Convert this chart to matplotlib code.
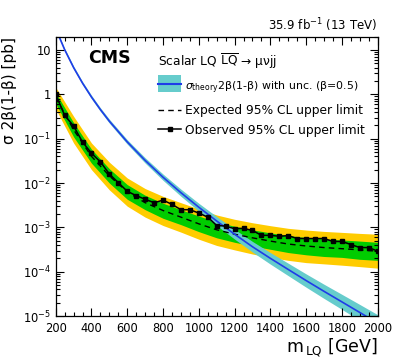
import matplotlib
matplotlib.use("Agg")
import matplotlib.pyplot as plt
from matplotlib.lines import Line2D
from matplotlib.patches import Rectangle
from matplotlib.ticker import FixedLocator, MultipleLocator, LogLocator, NullFormatter

# observed limit, one point every 50 GeV
mass_obs = [200, 250, 300, 350, 400, 450, 500, 550, 600, 650, 700, 750, 800, 850,
            900, 950, 1000, 1050, 1100, 1150, 1200, 1250, 1300, 1350, 1400, 1450,
            1500, 1550, 1600, 1650, 1700, 1750, 1800, 1850, 1900, 1950, 2000]
observed = [1.0, 0.336, 0.193, 0.084, 0.047, 0.030, 0.016, 0.0102, 0.0065, 0.0052,
            0.0043, 0.0036, 0.0041, 0.0033, 0.0025, 0.0025, 0.0021, 0.0017, 0.0011,
            0.00107, 0.00093, 0.00095, 0.00085, 0.00066, 0.00066, 0.00063, 0.00065,
            0.00056, 0.00056, 0.00056, 0.00056, 0.00048, 0.00048, 0.00041, 0.00035,
            0.00035, 0.00029]

# expected limit and its 1/2 sigma bands
mass_exp = [200, 300, 400, 500, 600, 700, 800, 900, 1000, 1100, 1200, 1300, 1400,
            1500, 1600, 1700, 1800, 1900, 2000]
expected = [0.85, 0.16, 0.040, 0.0145, 0.0063, 0.0036, 0.0024, 0.0017, 0.0012,
            0.00088, 0.00070, 0.00058, 0.00049, 0.00042, 0.00038, 0.00035,
            0.00033, 0.00031, 0.00029]
exp_m1 = [0.62, 0.11, 0.028, 0.0100, 0.0043, 0.0025, 0.0016, 0.00115, 0.00080,
          0.00058, 0.00046, 0.00038, 0.00032, 0.00027, 0.00024, 0.00022, 0.00021,
          0.00019, 0.00018]
exp_p1 = [1.10, 0.23, 0.058, 0.0210, 0.0092, 0.0053, 0.0035, 0.0025, 0.0018,
          0.00132, 0.00106, 0.00088, 0.00075, 0.00065, 0.00059, 0.00055, 0.00052,
          0.00049, 0.00046]
exp_m2 = [0.47, 0.080, 0.020, 0.0070, 0.0030, 0.0017, 0.0011, 0.00078, 0.00054,
          0.00039, 0.00031, 0.00025, 0.00021, 0.00018, 0.00016, 0.00015, 0.00014,
          0.00013, 0.00012]
exp_p2 = [1.45, 0.32, 0.080, 0.0295, 0.0130, 0.0075, 0.0050, 0.0036, 0.0026,
          0.0019, 0.00152, 0.00127, 0.00109, 0.00095, 0.00087, 0.00081, 0.00077,
          0.00073, 0.00070]

# theory cross section x 2beta(1-beta), beta = 0.5
mass_th = [200, 250, 300, 350, 400, 450, 500, 600, 700, 800, 900, 1000, 1100, 1200,
           1300, 1400, 1500, 1600, 1700, 1800, 1900, 2000]
theory = [30.3, 10.2, 4.02, 1.79, 0.87, 0.453, 0.248, 0.0845, 0.0324, 0.0135,
          0.00605, 0.00284, 0.00139, 0.000700, 0.000365, 0.000200, 0.000112,
          6.3e-5, 3.6e-5, 2.08e-5, 1.2e-5, 6.9e-6]
theory_up = [32.5, 10.9, 4.36, 1.94, 0.954, 0.497, 0.275, 0.0948, 0.0372, 0.0159,
             0.00727, 0.00349, 0.00175, 0.000902, 0.000481, 0.000270, 0.000155,
             8.9e-5, 5.2e-5, 3.08e-5, 1.82e-5, 1.07e-5]
theory_down = [28.3, 9.5, 3.71, 1.65, 0.794, 0.413, 0.224, 0.0753, 0.0282, 0.0115,
               0.00503, 0.00231, 0.00110, 0.000543, 0.000277, 0.000148, 8.12e-5,
               4.46e-5, 2.49e-5, 1.41e-5, 7.9e-6, 4.45e-6]

ytick_vals = [1e-5, 1e-4, 1e-3, 1e-2, 1e-1, 1, 10]
ytick_labels = [r"$10^{-5}$", r"$10^{-4}$", r"$10^{-3}$", r"$10^{-2}$", r"$10^{-1}$", "1", "10"]

W, H = 399, 364


def px(x, y):
    """pixel position -> figure fraction"""
    return x / W, 1 - y / H


plt.rcParams["font.family"] = ["DejaVu Sans"]
fig = plt.figure(figsize=(W / 100, H / 100), dpi=100)
ax = fig.add_axes([55.7 / W, 1 - 316 / H, 322 / W, 279.3 / H])

yellow = "#ffcc00"
green = "#00cc00"
cyan = "#66cccc"
blue = "#1f3ce8"

ax.fill_between(mass_exp, exp_m2, exp_p2, color=yellow, lw=0)
ax.fill_between(mass_exp, exp_m1, exp_p1, color=green, lw=0)
ax.plot(mass_exp, expected, color="black", lw=1, ls=(0, (4, 3)))
ax.fill_between(mass_th, theory_down, theory_up, color=cyan, lw=0)
ax.plot(mass_th, theory, color=blue, lw=1.2)
ax.plot(mass_obs, observed, color="black", lw=1.1, marker="s", ms=3.2)

ax.set_yscale("log")
ax.set_xlim(200, 2000)
ax.set_ylim(1e-5, 20)

ax.xaxis.set_major_locator(MultipleLocator(200))
ax.xaxis.set_minor_locator(MultipleLocator(50))
ax.yaxis.set_major_locator(FixedLocator(ytick_vals))
ax.set_yticklabels(ytick_labels)
ax.yaxis.set_minor_locator(LogLocator(base=10, subs=range(2, 10), numticks=20))
ax.yaxis.set_minor_formatter(NullFormatter())
ax.tick_params(which="both", direction="in", top=True, right=True, width=0.8,
               labelsize=8.3)
ax.tick_params(axis="x", pad=4.5)
ax.tick_params(axis="y", pad=3.5)
ax.tick_params(which="major", length=5.5)
ax.tick_params(which="minor", length=2.8)
for s in ax.spines.values():
    s.set_linewidth(0.9)

ax.set_xlabel(r"m$_{\,\mathrm{LQ}}$ [GeV]", fontsize=12.5, loc="right", labelpad=1)
ax.set_ylabel("σ 2β(1-β) [pb]", fontsize=11, loc="top", labelpad=4)

fig.text(*px(88.3, 63.3), "CMS", fontsize=12.5, fontweight="bold", va="baseline")
fig.text(*px(377, 30), r"35.9 fb$^{-1}$ (13 TeV)", fontsize=8.5, ha="right", va="baseline")

# legend
fs = 8.8
fig.text(*px(158, 66), r"Scalar LQ $\overline{\mathrm{LQ}}$ → μνjj", fontsize=fs, va="baseline")
x0, y0 = px(158, 92)
x1, y1 = px(181, 75)
fig.patches.append(Rectangle((x0, y0), x1 - x0, y1 - y0, transform=fig.transFigure,
                             color=cyan, lw=0))
fig.lines.append(Line2D([x0, x1], [px(0, 83.5)[1]] * 2, transform=fig.transFigure,
                        color=blue, lw=1.5))
fig.text(*px(185, 90.7), r"$\sigma_{\mathrm{theory}}$2β(1-β) with unc. (β=0.5)",
         fontsize=7.9, va="baseline")
fig.lines.append(Line2D([x0, x1], [px(0, 110)[1]] * 2, transform=fig.transFigure,
                        color="black", lw=1, ls=(0, (4, 3))))
fig.text(*px(185, 114), "Expected 95% CL upper limit", fontsize=fs, va="baseline")
fig.lines.append(Line2D([x0, x1], [px(0, 129.3)[1]] * 2, transform=fig.transFigure,
                        color="black", lw=1.1))
fig.lines.append(Line2D([px(169.5, 0)[0]], [px(0, 129.3)[1]], transform=fig.transFigure,
                        color="black", marker="s", ms=3.2))
fig.text(*px(185, 134), "Observed 95% CL upper limit", fontsize=fs, va="baseline")

fig.savefig("out.png", dpi=100)
